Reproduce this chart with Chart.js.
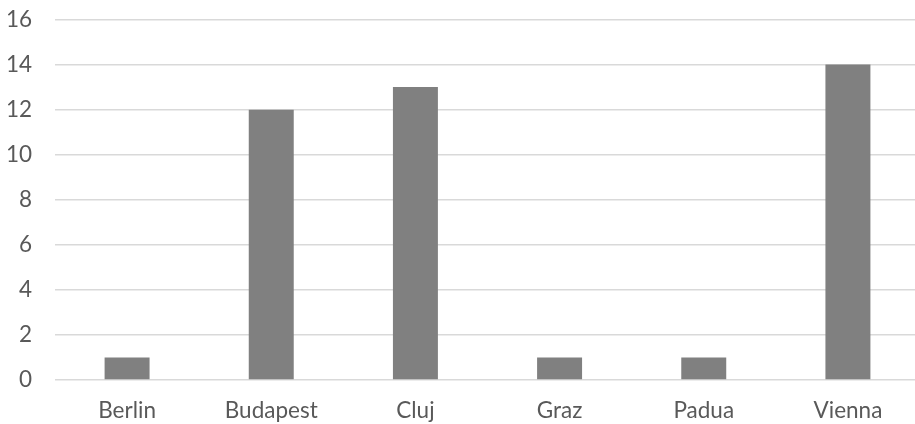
<!DOCTYPE html>
<html>
<head>
<meta charset="utf-8">
<script src="https://cdn.jsdelivr.net/npm/chart.js@4"></script>
<style>
  html, body { margin: 0; padding: 0; background: #ffffff; overflow: hidden; }
  #wrap { position: absolute; left: 0; top: 0; width: 922px; height: 424px; }
</style>
</head>
<body>
<div id="wrap"><canvas id="chart"></canvas></div>
<script>
// Cities and their counts
const categories = ['Berlin', 'Budapest', 'Cluj', 'Graz', 'Padua', 'Vienna'];
const counts = [1, 12, 13, 1, 1, 14];
const yTicks = [0, 2, 4, 6, 8, 10, 12, 14, 16];

const textColor = '#595959';
const gridColor = '#d9d9d9';
const font = { family: 'Lato, "Open Sans", sans-serif', size: 22.5 };

new Chart(document.getElementById('chart'), {
  type: 'bar',
  data: {
    labels: categories,
    datasets: [{
      data: counts,
      backgroundColor: '#808080',
      borderWidth: 0,
      barPercentage: 1,
      categoryPercentage: 0.312
    }]
  },
  options: {
    responsive: true,
    maintainAspectRatio: false,
    animation: false,
    layout: { autoPadding: false, padding: { top: 19.5, right: 2, left: 8, bottom: 0 } },
    plugins: { legend: { display: false }, tooltip: { enabled: false } },
    scales: {
      x: {
        grid: { display: false, drawTicks: false },
        border: { display: false },
        ticks: { color: textColor, font: font, padding: 17, maxRotation: 0 },
        afterFit: (axis) => {
          axis.height = 44;
          axis.paddingLeft = 0;
          axis.paddingRight = 0;
        }
      },
      y: {
        min: 0,
        max: 16,
        afterBuildTicks: (axis) => { axis.ticks = yTicks.map(v => ({ value: v })); },
        grid: { color: gridColor, lineWidth: 1.5, drawTicks: false },
        border: { display: false },
        ticks: { color: textColor, font: font, padding: 23 },
        afterFit: (axis) => {
          axis.width = 47;
          axis.paddingTop = 0;
          axis.paddingBottom = 0;
        }
      }
    }
  }
});
</script>
</body>
</html>
